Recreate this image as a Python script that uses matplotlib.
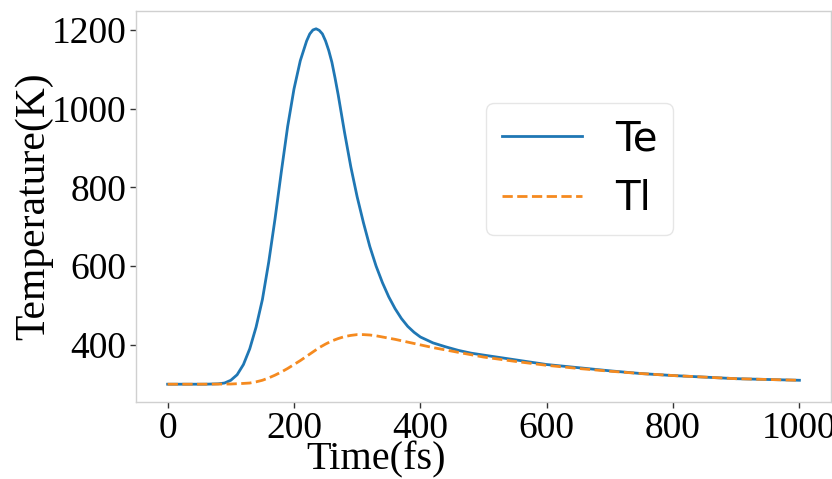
import matplotlib
matplotlib.use("Agg")
import matplotlib.pyplot as plt

# time (fs) and temperatures (K)
time_te = [0, 20, 40, 60, 80, 90, 100, 110, 120, 130, 140, 150, 160, 170, 180,
           190, 200, 210, 220, 225, 230, 235, 240, 245, 250, 255, 260, 265, 270,
           280, 290, 300, 310, 320, 330, 340, 350, 360, 370, 380, 390, 400, 420,
           440, 460, 480, 500, 550, 600, 650, 700, 750, 800, 850, 900, 950, 1000]
te = [300, 300, 300, 300, 301, 303, 310, 324, 350, 390, 445, 515, 610, 720, 840,
      955, 1050, 1122, 1172, 1190, 1200, 1203, 1199, 1190, 1172, 1148, 1118, 1078, 1035,
      940, 852, 776, 710, 650, 600, 558, 522, 492, 467, 447, 432, 420, 405,
      395, 386, 379, 374, 362, 350, 342, 334, 327, 322, 318, 314, 312, 310]

time_tl = [0, 50, 100, 120, 130, 140, 150, 160, 170, 180, 190, 200, 210, 220,
           230, 240, 250, 260, 270, 280, 290, 300, 310, 320, 330, 340, 350, 360,
           380, 400, 420, 440, 460, 480, 500, 550, 600, 650, 700, 750, 800, 850,
           900, 950, 1000]
tl = [300, 300, 300.5, 302, 303, 306, 310, 316, 323, 331, 340, 350, 360, 371,
      382, 393, 402, 410, 416, 421, 424, 426, 426, 425, 423, 420, 417, 414,
      407, 400, 393, 387, 381, 375, 369, 358, 348, 340, 333, 327, 322, 318,
      314, 312, 310]

xticks = [0, 200, 400, 600, 800, 1000]
yticks = [400, 600, 800, 1000, 1200]

serif = "Liberation Serif"

fig = plt.figure(figsize=(8.32, 4.79), dpi=100)
ax = fig.add_axes([0.1635, 0.1608, 0.8353, 0.8162])

ax.plot(time_te, te, color="#1f77b4", lw=2, label="Te")
ax.plot(time_tl, tl, color="#f58a1f", lw=2, ls="--", label="Tl")

ax.set_xticks(xticks)
ax.set_yticks(yticks)
ax.tick_params(direction="out", length=4, width=1, color="#333333", pad=3)
for lab in ax.get_xticklabels() + ax.get_yticklabels():
    lab.set_fontfamily(serif)
    lab.set_fontsize(27)

for sp in ax.spines.values():
    sp.set_color("#d0d0d0")
    sp.set_linewidth(1)

ax.set_xlabel("Time(fs)", fontfamily=serif, fontsize=29)
ax.set_ylabel("Temperature(K)", fontfamily=serif, fontsize=30)
ax.xaxis.set_label_coords(0.345, -0.1)
ax.yaxis.set_label_coords(-0.119, 0.5)

leg = ax.legend(loc="upper right", bbox_to_anchor=(0.773, 0.765),
                borderaxespad=0, fontsize=29, frameon=True, fancybox=True)
leg.get_frame().set_edgecolor("#e0e0e0")
leg.get_frame().set_linewidth(1)

fig.savefig("out.png", dpi=100)
